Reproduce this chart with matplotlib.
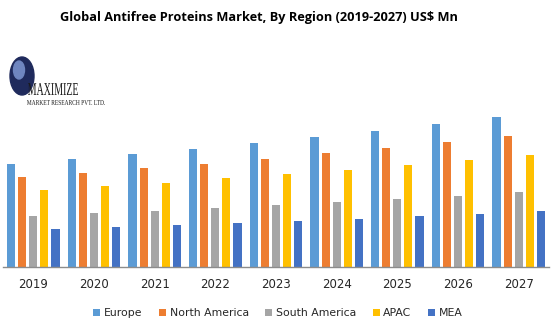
import numpy as np
import matplotlib.pyplot as plt
from matplotlib.patches import Ellipse, PathPatch
from matplotlib.textpath import TextPath
from matplotlib.font_manager import FontProperties
from matplotlib.transforms import Affine2D, IdentityTransform

years = ['2019', '2020', '2021', '2022', '2023', '2024', '2025', '2026', '2027']
regions = ['Europe', 'North America', 'South America', 'APAC', 'MEA']
europe = [103, 108, 113, 118, 124, 130, 136, 143, 150]
north_america = [90, 94, 99, 103, 108, 114, 119, 125, 131]
south_america = [51, 54, 56, 59, 62, 65, 68, 71, 75]
apac = [77, 81, 84, 89, 93, 97, 102, 107, 112]
mea = [38, 40, 42, 44, 46, 48, 51, 53, 56]
colors = ['#5B9BD5', '#ED7D31', '#A5A5A5', '#FFC000', '#4472C4']

series = [europe, north_america, south_america, apac, mea]

W, H = 556, 328
fig = plt.figure(figsize=(W / 100, H / 100), dpi=100)
# axes placed in pixel terms: x 3..549, baseline at y=267
ax = fig.add_axes([3 / W, (H - 267) / H, 546 / W, 160 / H])

x = np.arange(len(years))
step = 0.182
width = 0.135
for i, (vals, name, c) in enumerate(zip(series, regions, colors)):
    ax.bar(x + (i - 2) * step, vals, width, color=c, label=name)

ax.set_xlim(-0.5, len(years) - 0.5)
ax.set_ylim(0, 160)
ax.set_yticks([])
for side in ['top', 'right', 'left']:
    ax.spines[side].set_visible(False)
ax.spines['bottom'].set_color('#8c8c8c')
ax.spines['bottom'].set_linewidth(1.0)
ax.set_xticks(x)
ax.set_xticklabels(years, fontsize=8.5, color='#262626')
ax.tick_params(axis='x', length=0, pad=8)

leg = fig.legend(loc='center', bbox_to_anchor=(0.5, (H - 313) / H), ncol=5,
                 frameon=False, fontsize=7.8, handlelength=0.65, handleheight=0.65,
                 handletextpad=0.35, columnspacing=1.5)
for t in leg.get_texts():
    t.set_color('#262626')

fig.text(259 / W, (H - 17) / H, 'Global Antifree Proteins Market, By Region (2019-2027) US$ Mn',
         ha='center', va='center', fontsize=9.2, fontweight='bold', family='Open Sans')


def logo_text(s, x0, y0, w, h, color='#1a1a1a'):
    # condensed serif text fitted into a pixel box (x0, y0 = top-left, from top)
    tp = TextPath((0, 0), s, size=10, prop=FontProperties(family='Liberation Serif'))
    bb = tp.get_extents()
    tr = (Affine2D().translate(-bb.x0, -bb.y0)
          .scale(w / bb.width, h / bb.height)
          .translate(x0, H - y0 - h))
    fig.patches.append(PathPatch(tr.transform_path(tp), transform=IdentityTransform(),
                                 color=color, lw=0))


# company logo
fig.patches.append(Ellipse((22 / W, (H - 76) / H), 24 / W, 38 / H,
                           transform=fig.transFigure, color='#1f2a5c', zorder=0))
fig.patches.append(Ellipse((19 / W, (H - 70) / H), 11 / W, 18 / H,
                           transform=fig.transFigure, color='#6f86c0', zorder=1))
logo_text('MAXIMIZE', 28, 83, 50, 12)
logo_text('MARKET RESEARCH PVT. LTD.', 27, 100, 78, 5)

fig.savefig('out.png', dpi=100)
